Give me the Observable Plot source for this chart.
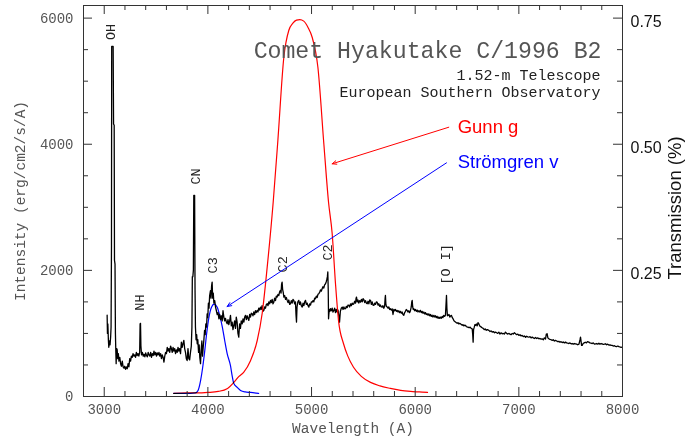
<!DOCTYPE html>
<html>
<head>
<meta charset="utf-8">
<script src="https://cdn.jsdelivr.net/npm/d3@7"></script>
<script src="https://cdn.jsdelivr.net/npm/@observablehq/plot@0.6"></script>
<style>
  body { margin: 0; background: #fff; }
  #chart svg { display: block; }
</style>
</head>
<body>
<div id="chart"></div>
<script>
// Spectrum of comet C/1996 B2 (Hyakutake): wavelength (Å) and flux (erg/cm2/s/Å)
const specWave = [
  3028,3031,3035,3040,3044,3050,3056,3062,3066,3070,3072,3086,3090,3096,3099,3104,3108,3112,3115,3120,
  3125,3130,3136,3142,3150,3158,3166,3174,3182,3190,3198,3206,3214,3222,3230,3238,3246,3254,3262,3270,
  3278,3286,3294,3302,3310,3318,3326,3334,3342,3346,3350,3354,3360,3368,3376,3384,3392,3400,3408,3416,
  3424,3432,3440,3448,3456,3464,3472,3480,3488,3496,3504,3512,3520,3528,3536,3544,3552,3560,3568,3576,
  3584,3592,3600,3608,3616,3624,3632,3640,3648,3656,3664,3672,3680,3688,3696,3704,3712,3720,3728,3736,
  3744,3752,3760,3768,3776,3784,3792,3800,3808,3816,3824,3832,3840,3846,3850,3855,3860,3864,3872,3876,
  3880,3886,3892,3897,3903,3910,3916,3922,3929,3936,3942,3948,3955,3961,3968,3974,3980,3987,3993,3999,
  4005,4011,4017,4025,4030,4036,4041,4046,4052,4058,4066,4074,4082,4090,4098,4106,4114,4122,4130,4138,
  4146,4154,4162,4170,4178,4186,4194,4202,4210,4218,4226,4234,4242,4250,4258,4266,4274,4282,4290,4298,
  4306,4314,4322,4331,4339,4347,4355,4363,4371,4379,4387,4395,4403,4411,4419,4427,4435,4443,4451,4459,
  4467,4475,4483,4491,4499,4507,4515,4523,4531,4540,4548,4556,4564,4572,4580,4588,4596,4604,4612,4620,
  4628,4636,4644,4652,4660,4668,4676,4684,4692,4700,4706,4711,4716,4721,4727,4733,4741,4749,4757,4765,
  4773,4781,4789,4797,4805,4813,4821,4829,4837,4845,4850,4855,4860,4868,4877,4885,4893,4901,4910,4918,
  4926,4934,4942,4950,4958,4966,4974,4982,4990,4998,5006,5014,5022,5030,5038,5046,5054,5062,5070,5078,
  5086,5094,5102,5110,5118,5126,5135,5142,5148,5153,5157,5161,5164,5167,5172,5177,5183,5191,5199,5207,
  5215,5223,5231,5239,5247,5255,5262,5270,5278,5287,5296,5304,5312,5320,5328,5336,5344,5352,5360,5368,
  5376,5384,5392,5400,5408,5416,5424,5430,5434,5440,5448,5456,5464,5473,5481,5489,5497,5505,5513,5521,
  5529,5537,5545,5553,5561,5569,5577,5585,5593,5601,5609,5617,5625,5633,5641,5649,5657,5665,5673,5681,
  5689,5697,5705,5710,5713,5717,5722,5730,5738,5746,5754,5762,5770,5778,5786,5794,5802,5810,5818,5826,
  5834,5842,5850,5858,5866,5874,5882,5890,5898,5906,5914,5922,5930,5938,5946,5954,5962,5967,5971,5976,
  5981,5987,5995,6003,6011,6019,6027,6035,6043,6051,6059,6067,6075,6083,6091,6099,6107,6115,6123,6131,
  6139,6147,6155,6163,6171,6180,6188,6196,6204,6212,6220,6228,6236,6244,6252,6260,6268,6275,6284,6292,
  6297,6302,6306,6311,6318,6326,6334,6342,6350,6358,6366,6374,6382,6389,6397,6405,6413,6421,6429,6437,
  6445,6453,6461,6469,6477,6485,6493,6501,6510,6520,6530,6540,6550,6555,6559,6563,6570,6576,6582,6590,
  6598,6606,6614,6622,6630,6638,6646,6656,6666,6676,6686,6696,6711,6722,6733,6743,6754,6765,6775,6786,
  6796,6807,6818,6828,6839,6850,6860,6871,6882,6893,6903,6914,6925,6936,6946,6957,6968,6979,6990,7000,
  7011,7022,7032,7043,7054,7065,7075,7086,7097,7108,7118,7129,7140,7150,7161,7172,7182,7193,7204,7214,
  7225,7236,7246,7257,7265,7273,7280,7289,7300,7311,7322,7332,7343,7354,7365,7375,7386,7397,7407,7418,
  7429,7440,7450,7461,7472,7483,7493,7504,7515,7526,7536,7547,7558,7568,7580,7590,7595,7600,7605,7611,
  7620,7630,7641,7652,7662,7675,7686,7697,7708,7718,7729,7740,7750,7761,7772,7782,7793,7804,7815,7825,
  7836,7847,7857,7868,7879,7890,7900,7911,7922,7932,7943,7954,7965,7975,7986,7997
];
const specFlux = [
  1290,1000,1150,900,780,880,820,950,1100,2400,5550,5550,4320,4300,2160,2100,1000,700,520,760,
  740,600,680,560,620,520,480,560,470,450,480,430,470,440,520,470,600,560,640,620,
  680,640,660,620,700,650,680,640,700,1150,1160,800,660,700,640,670,630,690,650,630,
  700,660,640,700,620,680,650,720,660,700,640,690,660,700,640,680,600,660,620,545,
  640,700,680,780,720,760,700,800,760,700,780,720,760,680,740,700,780,720,760,680,
  860,780,840,890,760,700,600,570,760,600,580,700,800,1100,1900,1900,2000,3190,3190,1700,
  1100,900,980,836,900,700,820,620,520,760,880,640,780,890,1050,980,1150,1100,1310,1250,
  1480,1400,1600,1680,1560,1760,1815,1560,1640,1480,1520,1418,1360,1300,1330,1233,1300,1220,1280,1200,
  1360,1259,1200,1240,1180,1153,1220,1140,1200,1286,1120,1180,1060,1127,1200,1080,1259,1180,1000,942,
  1150,1080,1200,1153,1230,1180,1260,1286,1220,1280,1240,1206,1300,1260,1320,1312,1280,1340,1300,1360,
  1330,1365,1340,1400,1370,1418,1380,1440,1350,1365,1420,1400,1460,1471,1440,1500,1470,1524,1490,1540,
  1470,1497,1560,1520,1590,1577,1620,1600,1660,1683,1640,1780,1815,1700,1650,1577,1600,1540,1570,1524,
  1490,1530,1460,1471,1520,1480,1540,1524,1470,1500,1300,1180,1420,1500,1524,1460,1500,1440,1418,1480,
  1440,1500,1524,1460,1480,1440,1418,1470,1450,1500,1497,1520,1500,1560,1550,1590,1570,1620,1630,1650,
  1690,1670,1709,1740,1720,1770,1788,1820,1860,1900,1974,1700,1233,1300,1380,1350,1392,1360,1400,1340,
  1365,1400,1330,1380,1339,1370,1300,1180,1350,1400,1418,1380,1420,1390,1392,1430,1410,1450,1444,1420,
  1470,1440,1480,1460,1471,1510,1480,1560,1577,1500,1530,1480,1520,1497,1540,1500,1550,1534,1490,1520,
  1480,1471,1510,1470,1530,1524,1460,1500,1450,1444,1480,1460,1500,1497,1450,1470,1430,1450,1420,1418,
  1440,1400,1430,1560,1603,1470,1430,1418,1400,1420,1380,1392,1370,1390,1300,1380,1360,1380,1350,1365,
  1340,1360,1330,1350,1320,1340,1300,1286,1330,1350,1380,1365,1340,1360,1330,1360,1420,1500,1524,1420,
  1380,1392,1360,1380,1350,1370,1340,1360,1340,1365,1330,1350,1320,1340,1310,1330,1300,1312,1290,1310,
  1280,1300,1270,1290,1260,1286,1260,1280,1250,1270,1240,1260,1240,1259,1240,1270,1250,1286,1270,1290,
  1450,1603,1400,1280,1286,1300,1260,1280,1286,1250,1230,1200,1190,1180,1170,1160,1170,1150,1160,1153,
  1140,1130,1140,1120,1130,1127,1110,1101,1100,1090,1100,1080,1074,980,862,1060,1100,1140,1127,1150,
  1120,1170,1153,1120,1110,1100,1090,1080,1060,1070,1050,1060,1048,1030,1040,1020,1030,1010,1021,1010,
  1000,1020,990,1010,995,1000,990,1021,1000,990,1000,990,980,1000,990,1010,995,980,990,970,
  980,960,968,950,960,940,955,945,940,950,930,942,930,920,935,920,930,915,920,910,
  915,900,930,910,990,995,930,915,905,900,890,900,880,889,880,870,875,860,870,855,
  865,850,862,850,845,840,850,835,840,830,840,836,830,820,830,900,942,880,810,810,
  840,850,860,850,870,862,850,845,840,850,830,836,840,830,845,830,840,835,825,830,
  836,820,830,815,820,810,810,800,805,795,790,800,790,785,780,783
];

// Gunn g filter transmission curve
const gunnWave  = [3670,3800,3900,4000,4100,4190,4250,4300,4345,4411,4476,4524,4572,4630,4675,4733,4781,4820,4855,4887,4925,4965,5006,5061,5119,5164,5199,5231,5260,5308,5350,5405,5480,5569,5660,5762,5860,5955,6040,6119];
const gunnTrans = [0.006,0.007,0.007,0.008,0.010,0.016,0.028,0.040,0.048,0.071,0.111,0.165,0.256,0.385,0.507,0.673,0.726,0.740,0.746,0.747,0.744,0.732,0.712,0.653,0.500,0.385,0.323,0.224,0.151,0.105,0.080,0.058,0.040,0.028,0.021,0.016,0.012,0.010,0.009,0.008];

// Strömgren v filter transmission curve
const stromWave  = [3670,3780,3880,3905,3930,3950,3970,3990,4010,4035,4060,4090,4115,4140,4163,4186,4218,4235,4250,4283,4315,4360,4411,4490];
const stromTrans = [0.006,0.006,0.007,0.012,0.032,0.058,0.091,0.128,0.157,0.177,0.183,0.177,0.160,0.137,0.110,0.085,0.061,0.040,0.026,0.018,0.012,0.009,0.008,0.006];

// Emission features marked above the spectrum
const lineNames = ["OH", "NH", "CN", "C3", "C2", "C2", "[O I]"];
const lineWave  = [3060, 3340, 3880, 4045, 4720, 5154, 6293];
const lineFlux  = [5780, 1490, 3490, 2080, 2095, 2285, 2095];

// Axis ticks
const xMajor = [3000, 4000, 5000, 6000, 7000, 8000];
const xTickLabels = ["3000", "4000", "5000", "6000", "7000", "8000"];
const xMinor = d3.range(3000, 8000, 200).filter(v => v % 1000 !== 0);
const yMajor = [0, 2000, 4000, 6000];
const yTickLabels = ["0", "2000", "4000", "6000"];
const yMinor = [500, 1000, 1500, 2500, 3000, 3500, 4500, 5000, 5500];
const transTicks = [0.25, 0.50, 0.75];
const transTickLabels = ["0.25", "0.50", "0.75"];
const transScale = 8000; // flux units per unit of transmission on the right axis

// Filter call-outs
const calloutNames = ["Gunn g", "Strömgren v"];
const calloutColors = ["#ff0000", "#0000ff"];
const calloutTextWave = [6410, 6410];
const calloutTextFlux = [4266, 3712];
const calloutFromWave = [6324, 6302];
const calloutFromFlux = [4270, 3705];
const calloutToWave = [5199, 4186];
const calloutToFlux = [3690, 1427];

const spectrum = specWave.map((w, i) => ({w, f: specFlux[i]}));
const gunn = gunnWave.map((w, i) => ({w, t: gunnTrans[i]}));
const strom = stromWave.map((w, i) => ({w, t: stromTrans[i]}));
const lines = lineNames.map((name, i) => ({name, w: lineWave[i], f: lineFlux[i]}));
const callouts = calloutNames.map((name, i) => ({
  name, color: calloutColors[i],
  tx: calloutTextWave[i], ty: calloutTextFlux[i],
  x1: calloutFromWave[i], y1: calloutFromFlux[i],
  x2: calloutToWave[i], y2: calloutToFlux[i]
}));

const W = 695, H = 438;
const mL = 83, mR = 73, mT = 5, mB = 42;
const fw = W - mL - mR, fh = H - mT - mB;
const mono = "'Liberation Mono', 'DejaVu Sans Mono', monospace";
const sans = "'Liberation Sans', Arial, Helvetica, sans-serif";
const narrow = "'Liberation Sans Narrow', 'Arial Narrow', 'Liberation Sans', Arial, sans-serif";
const majorLen = 9, minorLen = 5;

const chart = Plot.plot({
  width: W, height: H,
  marginLeft: mL, marginRight: mR, marginTop: mT, marginBottom: mB,
  x: {domain: [2800, 8000], axis: null},
  y: {domain: [0, 6200], axis: null},
  style: {background: "#fff", overflow: "visible"},
  marks: [
    // spectrum and filter curves
    Plot.line(spectrum, {x: "w", y: "f", stroke: "#000", strokeWidth: 1.3}),
    Plot.line(gunn, {x: "w", y: d => d.t * transScale, stroke: "#ff0000", strokeWidth: 1.2, curve: "monotone-x"}),
    Plot.line(strom, {x: "w", y: d => d.t * transScale, stroke: "#0000ff", strokeWidth: 1.2, curve: "monotone-x", mixBlendMode: "multiply"}),

    // feature labels
    Plot.text(lines, {x: "w", y: "f", text: "name", rotate: -90, textAnchor: "middle", lineAnchor: "middle",
      fontFamily: mono, fontSize: 13.5, fill: "#222"}),

    // filter call-outs
    Plot.arrow(callouts, {x1: "x1", y1: "y1", x2: "x2", y2: "y2", stroke: "color", strokeWidth: 1, headLength: 7, headAngle: 45}),
    Plot.text(callouts, {x: "tx", y: "ty", text: "name", fill: "color", textAnchor: "start", lineAnchor: "middle",
      fontFamily: sans, fontSize: 18.5}),

    // frame with inward ticks on all four sides
    Plot.frame({stroke: "#333", strokeWidth: 1}),
    Plot.tickX(xMajor, {x: d => d, insetTop: fh - majorLen, stroke: "#333"}),
    Plot.tickX(xMinor, {x: d => d, insetTop: fh - minorLen, stroke: "#333"}),
    Plot.tickX(xMajor, {x: d => d, insetBottom: fh - majorLen, stroke: "#333"}),
    Plot.tickX(xMinor, {x: d => d, insetBottom: fh - minorLen, stroke: "#333"}),
    Plot.tickY(yMajor, {y: d => d, insetRight: fw - majorLen, stroke: "#333"}),
    Plot.tickY(yMinor, {y: d => d, insetRight: fw - minorLen, stroke: "#333"}),
    Plot.tickY(yMajor, {y: d => d, insetLeft: fw - majorLen, stroke: "#333"}),
    Plot.tickY(yMinor, {y: d => d, insetLeft: fw - minorLen, stroke: "#333"}),

    // tick labels
    Plot.axisX(xMajor, {anchor: "bottom", tickSize: 0, tickPadding: 8, label: null,
      tickFormat: d => xTickLabels[xMajor.indexOf(d)],
      fontFamily: mono, fontSize: 14, fill: "#555"}),
    Plot.axisY(yMajor, {anchor: "left", tickSize: 0, tickPadding: 10, label: null,
      tickFormat: d => yTickLabels[yMajor.indexOf(d)],
      fontFamily: mono, fontSize: 14, fill: "#555"}),
    Plot.axisY(transTicks.map(t => t * transScale), {anchor: "right", tickSize: 0, tickPadding: 8, label: null,
      tickFormat: d => transTickLabels[transTicks.indexOf(d / transScale)],
      fontFamily: narrow, fontSize: 16, fill: "#111", dy: 4}),

    // axis titles
    Plot.text(["Wavelength (A)"], {frameAnchor: "bottom", dy: 32, text: d => d, textAnchor: "middle", lineAnchor: "middle",
      fontFamily: mono, fontSize: 14.5, fill: "#555"}),
    Plot.text(["Intensity (erg/cm2/s/A)"], {frameAnchor: "left", dx: -63, text: d => d, rotate: -90, textAnchor: "middle", lineAnchor: "middle",
      fontFamily: mono, fontSize: 14.5, fill: "#555"}),
    Plot.text(["Transmission (%)"], {frameAnchor: "right", dx: 53, dy: 7, text: d => d, rotate: -90, textAnchor: "middle", lineAnchor: "middle",
      fontFamily: sans, fontSize: 18.5, fill: "#111"}),

    // titles
    Plot.text(["Comet Hyakutake C/1996 B2"], {frameAnchor: "top-right", dx: -21, dy: 45, text: d => d, textAnchor: "end", lineAnchor: "middle",
      fontFamily: mono, fontSize: 23.2, fill: "#555"}),
    Plot.text(["1.52-m Telescope"], {frameAnchor: "top-right", dx: -22, dy: 69.5, text: d => d, textAnchor: "end", lineAnchor: "middle",
      fontFamily: mono, fontSize: 15, fill: "#222"}),
    Plot.text(["European Southern Observatory"], {frameAnchor: "top-right", dx: -22, dy: 87, text: d => d, textAnchor: "end", lineAnchor: "middle",
      fontFamily: mono, fontSize: 15, fill: "#222"})
  ]
});
document.getElementById("chart").append(chart);
</script>
</body>
</html>
